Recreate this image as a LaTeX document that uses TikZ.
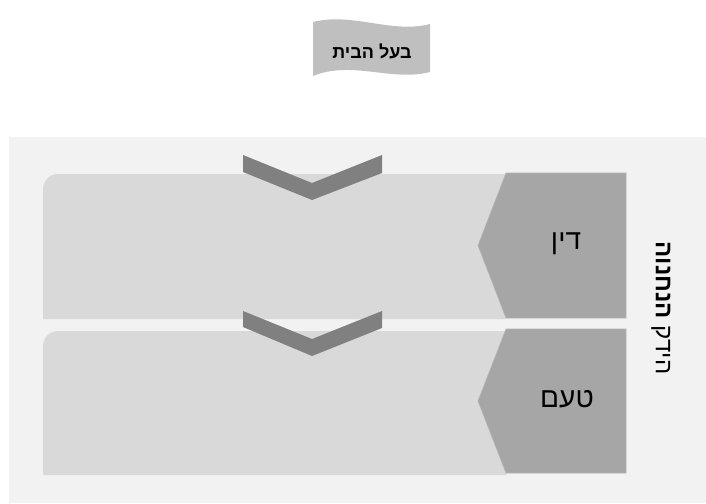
\documentclass[tikz,border=0pt]{standalone}
\usepackage{fontspec}
\setmainfont{Liberation Sans}
\newfontfamily\hebfont[Script=Hebrew]{Liberation Sans}
\TeXXeTstate=1
\definecolor{bgc}{HTML}{F2F2F2}
\definecolor{rowc}{HTML}{D9D9D9}
\definecolor{tabc}{HTML}{A6A6A6}
\definecolor{tabedge}{HTML}{B4B4B4}
\definecolor{chevc}{HTML}{808080}
\definecolor{banc}{HTML}{BFBFBF}
\begin{document}
\begin{tikzpicture}[x=1pt,y=-1pt,
  rowbox/.style={fill=rowc},
  tabbox/.style={fill=tabc,draw=tabedge,line width=0.6pt},
  chevbox/.style={fill=chevc},
  tablabel/.style={font=\hebfont\fontsize{28}{32}\selectfont,text=black,inner sep=0pt},
  sidelabel/.style={font=\hebfont\fontsize{24}{28}\selectfont,text=black,inner sep=0pt,rotate=-90},
  banlabel/.style={font=\hebfont\bfseries\fontsize{18}{21}\selectfont,text=black,inner sep=0pt}]
\useasboundingbox (0,0) rectangle (706,503);
% background panel
\fill[bgc] (9,137) rectangle (706,503);
% rows
\fill[rowbox] (43,319) -- (43,189) arc[start angle=180,end angle=270,radius=15] -- (506,174) -- (506,319) -- cycle;
\fill[rowbox] (43,475) -- (43,346) arc[start angle=180,end angle=270,radius=15] -- (506,331) -- (506,475) -- cycle;
% tabs
\filldraw[tabbox] (506,173) -- (626,173) -- (626,318) -- (506,318) -- (478,245.5) -- cycle;
\filldraw[tabbox] (506,329) -- (626,329) -- (626,473) -- (506,473) -- (478,401) -- cycle;
% chevrons
\fill[chevbox] (243,155) -- (312,183) -- (382,155) -- (382,173) -- (312,200) -- (243,172) -- cycle;
\fill[chevbox] (243,311) -- (312,339) -- (382,311) -- (382,328) -- (312,356) -- (243,327) -- cycle;
% banner
\fill[banc] (313,22) .. controls (352,12) and (392,34) .. (430,24) -- (430,72) .. controls (392,82) and (352,60) .. (313,76) -- cycle;
% labels
\node[banlabel] (owner) at (372,51) {\beginR בעל הבית\endR};
\node[tablabel] (din) at (566,244) {\beginR דין\endR};
\node[tablabel] (taam) at (567,399) {\beginR טעם\endR};
\node[sidelabel] (side) at (661,308) {\beginR הידק \textbf{הנחנוה}\endR};
\end{tikzpicture}
\end{document}
